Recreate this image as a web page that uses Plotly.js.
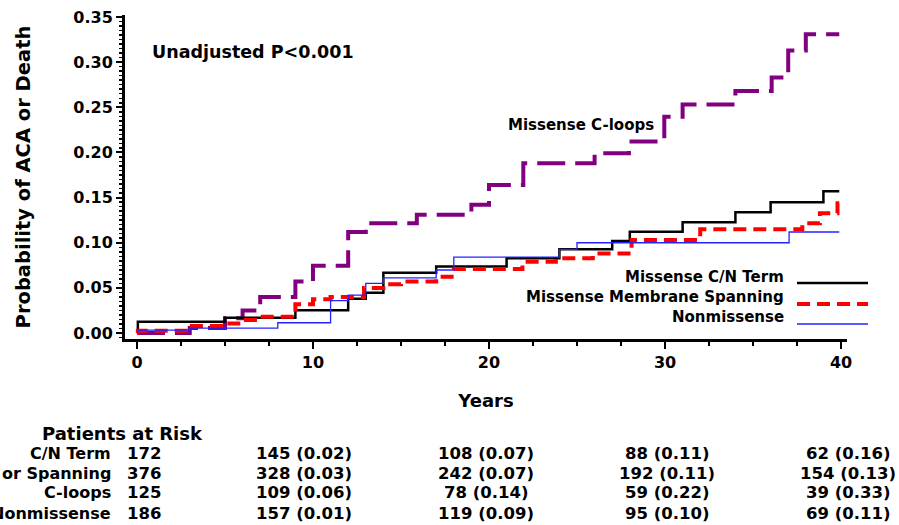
<!DOCTYPE html>
<html>
<head>
<meta charset="utf-8">
<script src="https://cdn.plot.ly/plotly-3.0.1.min.js"></script>
<style>html,body{margin:0;padding:0;background:#fff;}#chart{width:899px;height:525px;}</style>
</head>
<body>
<div id="chart"></div>
<script>
// ---- data ----
const cnTermYears = [0, 0.05, 5.0, 9.0, 12.0, 13.0, 14.0, 17.0, 21.0, 24.0, 27.0, 28.0, 31.0, 34.0, 36.0, 39.0, 39.9];
const cnTermProb  = [0, 0.0126, 0.017, 0.0252, 0.038, 0.0447, 0.0668, 0.0738, 0.0827, 0.0927, 0.102, 0.1122, 0.1226, 0.1337, 0.1448, 0.157, 0.157];

const spanYears = [0, 0.05, 3.0, 5.0, 6.0, 7.0, 9.0, 10.0, 11.0, 12.9, 14.0, 15.0, 17.0, 18.0, 21.9, 23.8, 25.9, 28.1, 32.0, 37.8, 38.8, 39.8, 39.9];
const spanProb  = [0, 0.0025, 0.0078, 0.0107, 0.0144, 0.018, 0.032, 0.0373, 0.040, 0.050, 0.054, 0.0570, 0.0624, 0.0710, 0.079, 0.0827, 0.088, 0.103, 0.1148, 0.1215, 0.1326, 0.1436, 0.1436];

const cloopYears = [0, 3.0, 5.0, 6.0, 7.0, 9.0, 10.0, 12.0, 13.0, 15.9, 19.0, 20.0, 21.95, 26.0, 27.95, 29.96, 31.0, 34.0, 36.06, 37.0, 38.0, 39.9];
const cloopProb  = [0, 0.0055, 0.0163, 0.025, 0.040, 0.057, 0.0745, 0.112, 0.1215, 0.131, 0.142, 0.164, 0.188, 0.199, 0.212, 0.2396, 0.253, 0.268, 0.283, 0.313, 0.331, 0.331];

const nonmisYears = [0, 0.05, 3.0, 8.0, 11.0, 12.0, 13.0, 14.0, 17.0, 18.0, 24.0, 25.0, 37.05, 39.9];
const nonmisProb  = [0, 0.0033, 0.0055, 0.0114, 0.036, 0.042, 0.055, 0.0612, 0.0698, 0.0840, 0.0927, 0.100, 0.1119, 0.1119];

const legendNames = ["Missense C/N Term", "Missense Membrane Spanning", "Nonmissense"];
const curveLabel = "Missense C-loops";
const pText = "Unadjusted P<0.001";

const xTickVals = [0, 10, 20, 30, 40];
const yTickVals = [0, 0.05, 0.10, 0.15, 0.20, 0.25, 0.30, 0.35];

const riskTitle = "Patients at Risk";
const riskLabels = ["C/N Term", "or Spanning", "C-loops", "Nonmissense"];
const riskStart = [172, 376, 125, 186];
const riskN = [[145, 108, 88, 62], [328, 242, 192, 154], [109, 78, 59, 39], [157, 119, 95, 69]];
const riskP = [["0.02", "0.07", "0.11", "0.16"], ["0.03", "0.07", "0.11", "0.13"], ["0.06", "0.14", "0.22", "0.33"], ["0.01", "0.09", "0.10", "0.11"]];

// ---- layout helpers (pixel -> paper) ----
const W = 899, H = 525, ML = 125, MR = 52, MT = 15, MB = 186;
const PW = W - ML - MR, PH = H - MT - MB;
const px = x => (x - ML) / PW;
const py = y => (H - MB - y) / PH;
const FONT = "DejaVu Sans";

const traces = [
  {x: cloopYears, y: cloopProb, mode: "lines", line: {shape: "hv", color: "#800080", width: 4, dash: "28px,10px"}, name: curveLabel},
  {x: cnTermYears, y: cnTermProb, mode: "lines", line: {shape: "hv", color: "#000000", width: 2.5}, name: legendNames[0]},
  {x: spanYears, y: spanProb, mode: "lines", line: {shape: "hv", color: "#ff0000", width: 4, dash: "13px,7px"}, name: legendNames[1]},
  {x: nonmisYears, y: nonmisProb, mode: "lines", line: {shape: "hv", color: "#2323ff", width: 1.3}, name: legendNames[2]}
];

const annotations = [];
const shapes = [];
const txt = (x, y, text, size, anchor, bold) => annotations.push({
  xref: "paper", yref: "paper", x: px(x), y: py(y), text: bold ? "<b>" + text + "</b>" : text,
  showarrow: false, xanchor: anchor, yanchor: "middle", font: {family: FONT, size: size, color: "#000"}
});

txt(150, 52, pText, 17.5, "left", true);
txt(581, 125, curveLabel, 15, "center", true);

const legY = [277, 297, 317];
const legLineY = [283, 304, 324];
const legStyle = [traces[1].line, traces[2].line, traces[3].line];
legendNames.forEach((n, i) => {
  txt(786, legY[i], n, 15, "right", true);
  shapes.push({type: "line", xref: "paper", yref: "paper", x0: px(797), x1: px(868), y0: py(legLineY[i]), y1: py(legLineY[i]),
    line: {color: legStyle[i].color, width: legStyle[i].width, dash: legStyle[i].dash || "solid"}});
});

// risk table
txt(122, 433, riskTitle, 18, "center", true);
const rowY = [453, 473, 493, 513];
const colX = [304, 486, 667, 848];
riskLabels.forEach((lab, r) => {
  txt(113, rowY[r], lab, 16, "right", true);
  txt(125, rowY[r], String(riskStart[r]), 16.5, "left", true);
  riskN[r].forEach((n, c) => txt(colX[c], rowY[r], n + " (" + riskP[r][c] + ")", 16.5, "center", true));
});

const layout = {
  width: W, height: H,
  margin: {l: ML, r: MR, t: MT, b: MB, pad: 0},
  paper_bgcolor: "#fff", plot_bgcolor: "#fff",
  showlegend: false,
  font: {family: FONT, color: "#000"},
  xaxis: {
    range: [-0.68, 40.34], tickvals: xTickVals, ticktext: xTickVals.map(v => "<b>" + v + "</b>"),
    showgrid: false, zeroline: false, showline: true, linecolor: "#000", linewidth: 3,
    ticks: "outside", ticklen: 7, tickwidth: 2, tickcolor: "#000",
    minor: {dtick: 2.5, tick0: 0, ticks: "outside", ticklen: 4, tickwidth: 2, tickcolor: "#000", showgrid: false},
    tickfont: {family: FONT, size: 16, color: "#000"},
    title: {text: "<b>Years</b>", font: {family: FONT, size: 18, color: "#000"}, standoff: 24}
  },
  yaxis: {
    range: [-0.0066, 0.3522], tickvals: yTickVals, ticktext: yTickVals.map(v => "<b>" + v.toFixed(2) + "</b>"),
    showgrid: false, zeroline: false, showline: true, linecolor: "#000", linewidth: 3,
    ticks: "outside", ticklen: 6, tickwidth: 2, tickcolor: "#000",
    minor: {dtick: 0.005, tick0: 0, ticks: "outside", ticklen: 3, tickwidth: 1.5, tickcolor: "#000", showgrid: false},
    tickfont: {family: FONT, size: 16, color: "#000"},
    title: {text: "<b>Probability of ACA or Death</b>", font: {family: FONT, size: 19.5, color: "#000"}, standoff: 38}
  },
  annotations: annotations,
  shapes: shapes
};

Plotly.newPlot("chart", traces, layout, {displayModeBar: false, staticPlot: true});
</script>
</body>
</html>
